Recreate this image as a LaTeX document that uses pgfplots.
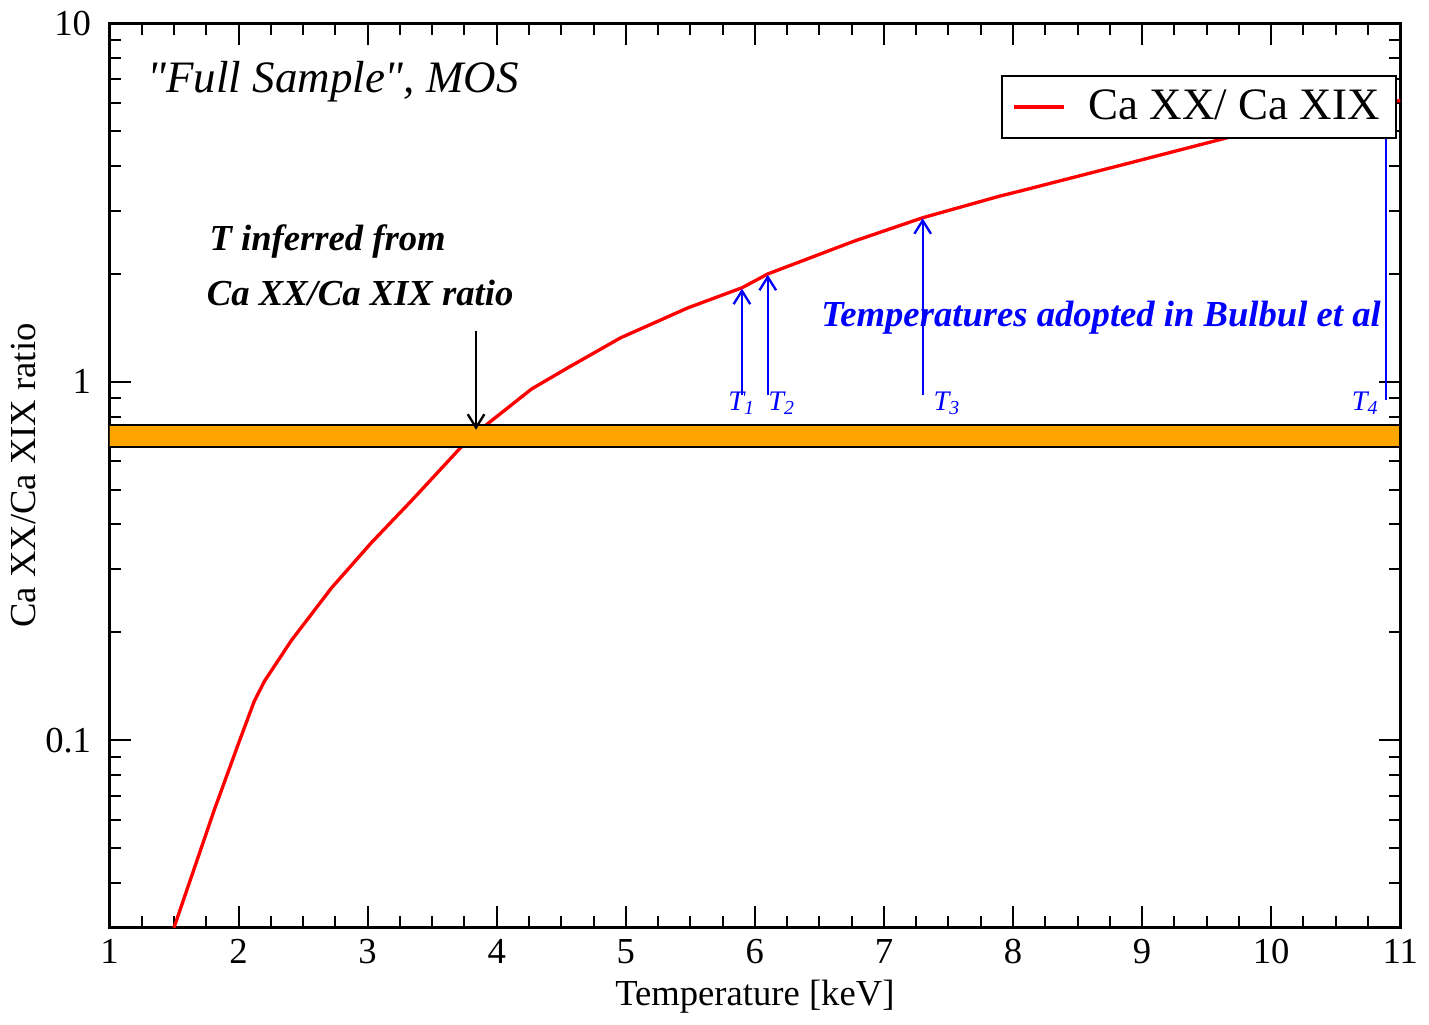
\documentclass[border=0pt]{standalone}
\usepackage{pgfplots}
\pgfplotsset{compat=1.18}
\usepackage{fontspec}
\setmainfont{Liberation Serif}[Ligatures=TeXOff]
\usetikzlibrary{arrows.meta}
\definecolor{bandorange}{HTML}{FFA500}

\begin{document}
\begin{tikzpicture}
\begin{axis}[
  scale only axis,
  width=387.6pt, height=271.5pt,
  ymode=log,
  xmin=1, xmax=11, ymin=0.03, ymax=10,
  xtick={1,2,...,11},
  minor x tick num=3,
  ytick={0.1,1,10},
  yticklabels={0.1,1,10},
  minor ytick={0.04,0.05,0.06,0.07,0.08,0.09,0.2,0.3,0.4,0.5,0.6,0.7,0.8,0.9,2,3,4,5,6,7,8,9},
  xtick pos=both, ytick pos=both,
  tick align=inside,
  major tick length=6.5pt, minor tick length=3.5pt,
  every tick/.style={black, line width=0.6pt},
  axis line style={line width=0.8pt},
  tick label style={font=\fontsize{11}{13}\selectfont},
  yticklabel style={xshift=-2pt},
  /pgf/number format/assume math mode=true,
  xlabel={Temperature [keV]},
  ylabel={Ca XX/Ca XIX ratio},
  ylabel shift=-4pt,
  xlabel shift=-2pt,
  label style={font=\fontsize{11}{13}\selectfont},
  legend style={at={(0.9977,0.9425)}, anchor=north east,
    font=\fontsize{13.5}{15}\selectfont, draw=black, line width=0.6pt},
  legend image code/.code={\draw[#1] (0pt,0pt) -- (15pt,0pt);},
  legend cell align=left,
]
% Ca XX / Ca XIX ratio curve
\addplot[red, line width=1pt] coordinates {
  (1.5,0.030) (1.81,0.0636) (2.0,0.098) (2.12,0.128) (2.2,0.146)
  (2.41,0.190) (2.72,0.266) (3.03,0.356) (3.34,0.466) (3.72,0.655)
  (3.93,0.764) (4.27,0.955) (4.55,1.094) (4.96,1.327) (5.48,1.608)
  (5.9,1.83) (6.1,2.0) (6.77,2.47) (7.3,2.87) (7.9,3.30) (8.06,3.41)
  (8.96,4.13) (9.85,5.0) (11,6.1)
};
\addlegendentry{\hspace{5pt}Ca XX/ Ca XIX}
% measured band
\addplot[draw=black, fill=bandorange, line width=0.6pt, forget plot]
  coordinates {(1,0.66) (11,0.66) (11,0.76) (1,0.76)} -- cycle;
% inferred T arrow
\addplot[black, line width=0.7pt, -{Straight Barb[length=4pt,width=5pt]}, forget plot]
  coordinates {(3.84,1.39) (3.84,0.735)};
% adopted temperatures
\addplot[blue, line width=0.7pt, -{Straight Barb[length=4pt,width=5pt]}, forget plot]
  coordinates {(5.9,0.92) (5.9,1.82)};
\addplot[blue, line width=0.7pt, -{Straight Barb[length=4pt,width=5pt]}, forget plot]
  coordinates {(6.1,0.92) (6.1,1.99)};
\addplot[blue, line width=0.7pt, -{Straight Barb[length=4pt,width=5pt]}, forget plot]
  coordinates {(7.3,0.92) (7.3,2.86)};
\addplot[blue, line width=0.7pt, forget plot]
  coordinates {(10.89,0.89) (10.89,6.0)};

\node[anchor=base west, inner sep=0pt, font=\fontsize{13.5}{16}\selectfont\itshape]
  at (axis cs:1.29,6.4) {"Full Sample", MOS};
\node[anchor=base west, inner sep=0pt, font=\fontsize{11}{13}\selectfont\bfseries\itshape]
  at (axis cs:1.77,2.32) {T inferred from};
\node[anchor=base west, inner sep=0pt, font=\fontsize{11}{13}\selectfont\bfseries\itshape]
  at (axis cs:1.75,1.63) {Ca XX/Ca XIX ratio};
\node[anchor=base west, inner sep=0pt, text=blue, font=\fontsize{11}{13}\selectfont\bfseries\itshape]
  at (axis cs:6.51,1.43) {Temperatures adopted in Bulbul et al};
\node[anchor=base west, text=blue, font=\fontsize{8.5}{10}\selectfont\itshape, inner sep=0pt]
  at (axis cs:5.79,0.83) {T\textsubscript{1}};
\node[anchor=base west, text=blue, font=\fontsize{8.5}{10}\selectfont\itshape, inner sep=0pt]
  at (axis cs:6.1,0.83) {T\textsubscript{2}};
\node[anchor=base west, text=blue, font=\fontsize{8.5}{10}\selectfont\itshape, inner sep=0pt]
  at (axis cs:7.38,0.83) {T\textsubscript{3}};
\node[anchor=base west, text=blue, font=\fontsize{8.5}{10}\selectfont\itshape, inner sep=0pt]
  at (axis cs:10.62,0.83) {T\textsubscript{4}};
\end{axis}
\end{tikzpicture}
\end{document}
